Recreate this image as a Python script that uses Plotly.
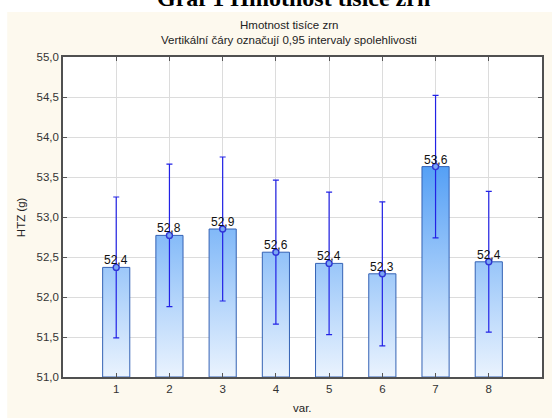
import plotly.graph_objects as go

# Mean thousand-grain weight per variant with 0.95 confidence half-widths
variants = [1, 2, 3, 4, 5, 6, 7, 8]
means = [52.37, 52.77, 52.85, 52.56, 52.42, 52.29, 53.63, 52.44]
ci_half = [0.88, 0.89, 0.90, 0.90, 0.89, 0.90, 0.89, 0.88]
y_ticks = [51.0, 51.5, 52.0, 52.5, 53.0, 53.5, 54.0, 54.5, 55.0]

Y_MIN, Y_MAX = 51.0, 55.0
BAR_HALF = 0.255
W, H = 552, 418
ML, MR, MT, MB = 63, 8, 57, 41
PW, PH = W - ML - MR, H - MT - MB

FONT = "Liberation Sans, Arial, sans-serif"
CREAM = "#fdf9ee"


def px_to_paper_x(px):
    return (px - ML) / PW


def px_to_paper_y(py):
    return (H - MB - py) / PH


def comma(v):
    return f"{v:.1f}".replace(".", ",")


fig = go.Figure()

# Bars as filled rectangles with a vertical gradient
for x, m in zip(variants, means):
    fig.add_trace(go.Scatter(
        x=[x - BAR_HALF, x - BAR_HALF, x + BAR_HALF, x + BAR_HALF, x - BAR_HALF],
        y=[Y_MIN, m, m, Y_MIN, Y_MIN],
        mode="lines",
        fill="toself",
        fillgradient=dict(
            type="vertical",
            colorscale=[[0, "#eaf3fe"], [1, "#4e9cf5"]],
            start=Y_MIN,
            stop=53.75,
        ),
        line=dict(color="#3462b4", width=1),
        hoverinfo="skip",
        showlegend=False,
    ))

# Means with confidence intervals
fig.add_trace(go.Scatter(
    x=variants,
    y=means,
    mode="markers",
    marker=dict(symbol="circle", size=6, color="#7aa6f4",
                line=dict(color="#2f35d6", width=1.4)),
    error_y=dict(type="data", array=ci_half, visible=True,
                 color="#2222e6", thickness=1.2, width=3),
    showlegend=False,
))

# Value labels above each mean
for x, m in zip(variants, means):
    fig.add_annotation(
        x=x, y=m, xref="x", yref="y",
        text=comma(m), showarrow=False,
        yanchor="bottom", yshift=-2,
        font=dict(family=FONT, size=12, color="#111111"),
    )

# Chart titles
fig.add_annotation(
    x=px_to_paper_x(290), y=px_to_paper_y(25), xref="paper", yref="paper",
    text="Hmotnost tisíce zrn", showarrow=False,
    xanchor="center", yanchor="middle",
    font=dict(family=FONT, size=11.5, color="#222222"),
)
fig.add_annotation(
    x=px_to_paper_x(290), y=px_to_paper_y(40), xref="paper", yref="paper",
    text="Vertikální čáry označují 0,95 intervaly spolehlivosti", showarrow=False,
    xanchor="center", yanchor="middle",
    font=dict(family=FONT, size=11.5, color="#222222"),
)
# Document caption above the chart panel
fig.add_annotation(
    x=px_to_paper_x(294), y=px_to_paper_y(13), xref="paper", yref="paper",
    text="<b>Graf 1 Hmotnost tisíce zrn</b>", showarrow=False,
    xanchor="center", yanchor="bottom",
    font=dict(family="Liberation Serif, Times New Roman, serif", size=24, color="#000000"),
)

# Axis titles
fig.add_annotation(
    x=px_to_paper_x(21), y=0.5, xref="paper", yref="paper",
    text="HTZ (g)", textangle=-90, showarrow=False,
    xanchor="center", yanchor="middle",
    font=dict(family=FONT, size=11.5, color="#222222"),
)
fig.add_annotation(
    x=0.5, y=px_to_paper_y(408), xref="paper", yref="paper",
    text="var.", showarrow=False,
    xanchor="center", yanchor="middle",
    font=dict(family=FONT, size=11.5, color="#222222"),
)

# Cream chart panel and white plotting area
fig.add_shape(type="rect", xref="paper", yref="paper", layer="below",
              x0=px_to_paper_x(7), x1=px_to_paper_x(W + 2),
              y0=px_to_paper_y(H + 2), y1=px_to_paper_y(12),
              line=dict(width=0), fillcolor=CREAM)
fig.add_shape(type="rect", xref="paper", yref="paper", layer="below",
              x0=0, x1=1, y0=0, y1=1,
              line=dict(width=0), fillcolor="#ffffff")

axis_common = dict(
    showline=True, linecolor="#505050", linewidth=1.5, mirror="ticks",
    ticks="inside", tickcolor="#555555", ticklen=4,
    showgrid=True, gridcolor="#dcdcdc", gridwidth=1,
    zeroline=False,
    tickfont=dict(family=FONT, size=11.5, color="#333333"),
)

fig.update_xaxes(range=[0, 9], tickvals=variants,
                 ticktext=[str(v) for v in variants], **axis_common)
fig.update_yaxes(range=[Y_MIN, Y_MAX], tickvals=y_ticks,
                 tickformat=".1f", **axis_common)

fig.update_layout(
    width=W, height=H,
    margin=dict(l=ML, r=MR, t=MT, b=MB, pad=0),
    paper_bgcolor="#ffffff",
    plot_bgcolor="rgba(0,0,0,0)",
    separators=", ",
    showlegend=False,
)

fig.write_html("out.html")
